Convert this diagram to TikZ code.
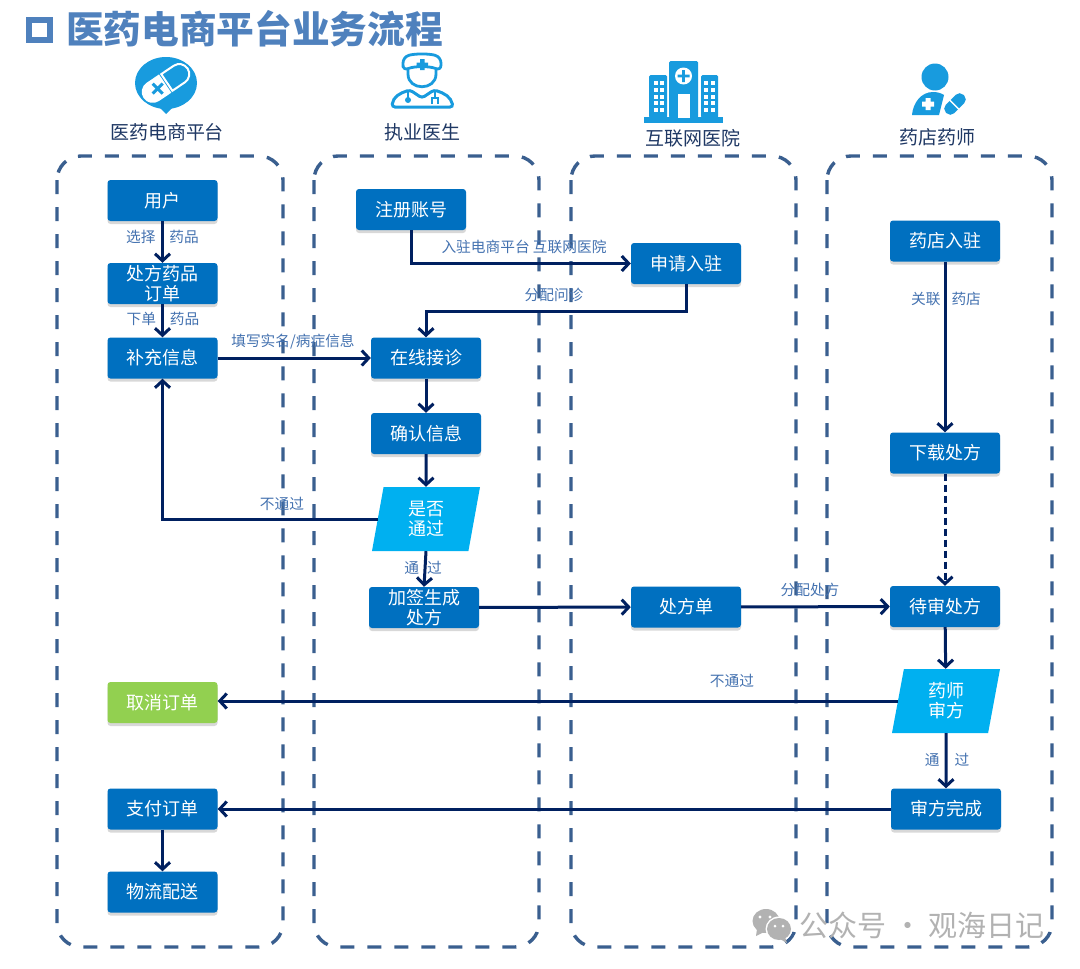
\documentclass[tikz,border=0pt]{standalone}
\usepackage{fontspec}
\setmainfont{Noto Sans CJK SC}
\usetikzlibrary{arrows.meta,shadows,shapes.geometric,calc}
\definecolor{boxblue}{RGB}{0,112,192}
\definecolor{paraBlue}{RGB}{0,176,240}
\definecolor{okgreen}{RGB}{146,208,80}
\definecolor{arrowblue}{RGB}{0,32,96}
\definecolor{lanecol}{RGB}{58,95,143}
\definecolor{labelcol}{RGB}{68,114,176}
\definecolor{titlecol}{RGB}{79,129,189}
\definecolor{headcol}{RGB}{31,56,100}
\definecolor{iconblue}{RGB}{24,155,222}
\definecolor{wmgrey}{RGB}{178,178,178}
\tikzset{
  lane/.style={draw=lanecol,line width=3.4pt,rounded corners=24pt,dash pattern=on 14pt off 13pt},
  flowbox/.style={fill=boxblue,rounded corners=3pt,minimum width=110pt,minimum height=41pt,inner sep=0pt,
    text=white,font=\fontsize{18}{20}\selectfont,align=center,drop shadow={shadow xshift=0pt,shadow yshift=-3pt,opacity=.3}},
  greenbox/.style={flowbox,fill=okgreen},
  parabox/.style={trapezium,trapezium left angle=72,trapezium right angle=108,trapezium stretches body,
    fill=paraBlue,minimum width=108pt,minimum height=64pt,inner sep=0pt,text=white,align=center,
    font=\fontsize{18}{20}\selectfont},
  link/.style={draw=arrowblue,line width=3pt,-{Straight Barb[length=7pt,width=15pt,line width=3pt]}},
  linklabel/.style={text=labelcol,font=\fontsize{14.7}{16}\selectfont,inner sep=0pt},
  laneHead/.style={text=headcol,font=\fontsize{19}{21}\selectfont,inner sep=0pt},
  icon/.style={fill=iconblue,draw=none},
}
\begin{document}
\begin{tikzpicture}[x=1pt,y=-1pt]
\useasboundingbox (0,0) rectangle (1080,969);
\fill[white] (0,0) rectangle (1080,969);
% title
\draw[titlecol,line width=6pt] (29,20) rectangle (49.5,39.5);
\node[text=titlecol,font=\fontsize{37.7}{40}\selectfont\bfseries,inner sep=0pt] (title) at (254.5,29) {医药电商平台业务流程};
% lanes
\draw[lane] (57,156) rectangle (283,947);
\draw[lane] (314,156) rectangle (539,947);
\draw[lane] (571,156) rectangle (796,947);
\draw[lane] (827,156) rectangle (1052,947);
% heads
\node[laneHead] (h1) at (167,132) {医药电商平台};
\node[laneHead] (h2) at (422,132) {执业医生};
\node[laneHead] (h3) at (693,138) {互联网医院};
\node[laneHead] (h4) at (937,137) {药店药师};
% icon: pill bubble
\fill[icon] (166,83) ellipse (31pt and 26pt);
\fill[icon] (156,104) -- (166,114) -- (176,104) -- cycle;
\begin{scope}[shift={(166,83)},rotate=34]
  \fill[white] (-1,-11) -- (-16,-11) arc[start angle=90,end angle=270,radius=11pt] -- (-1,11) -- cycle;
  \draw[white,line width=2pt] (1,-10) -- (16,-10) arc[start angle=90,end angle=-90,radius=10pt] -- (1,10) -- cycle;
  \begin{scope}[shift={(-10,0)},rotate=-34]
  \draw[iconblue,line width=3pt] (-5,-5) -- (5,5) (-5,5) -- (5,-5);
  \end{scope}
\end{scope}
% icon: doctor
\draw[iconblue,line width=2.8pt,rounded corners=6pt] (403,71) -- (403,57) .. controls (415,53.5) and (429,53.5) .. (441,57) -- (441,71) .. controls (430,66) and (414,66) .. (403,71) -- cycle;
\draw[iconblue,line width=2.8pt] (408,70) -- (408,74) .. controls (408,91) and (436,91) .. (436,74) -- (436,70);
\fill[iconblue] (420,59) rectangle (424.5,70) (416.5,62.5) rectangle (428,67);
\draw[iconblue,line width=3pt,rounded corners=3pt] (392,107) .. controls (393,97) and (400,93) .. (410,90) -- (422,98) -- (434,90) .. controls (444,93) and (451,97) .. (453,107) -- cycle;
\draw[iconblue,line width=2pt] (408,91) -- (408,98) (435,91) -- (435,97);
\fill[iconblue] (408,100) circle (3pt);
\draw[iconblue,line width=2pt] (432,104) -- (432,98) -- (438,98) -- (438,104);
% icon: hospital
\fill[icon] (644,117) rectangle (723,123);
\fill[icon,rounded corners=1.5pt] (649,75) rectangle (667,118);
\fill[icon,rounded corners=1.5pt] (701,75) rectangle (718,118);
\fill[icon,rounded corners=1.5pt] (669,61) rectangle (698,118);
\fill[white] (683.5,76) circle (8.5pt);
\fill[icon] (682.2,70) rectangle (684.8,82) (677.5,74.7) rectangle (689.5,77.3);
\fill[white] (678,94) rectangle (690,118);
\foreach \cx in {656,662,706,713}{\foreach \cy in {83,90,96.5,103,110}{\fill[white] (\cx-2,\cy-2) rectangle (\cx+2,\cy+2);}}
% icon: pharmacist
\fill[icon] (935,77) circle (13.5pt);
\fill[icon] (912,115) .. controls (913,103) and (921,92) .. (933,92) .. controls (937,92) and (941,93) .. (944,95) -- (939,115) -- cycle;
\fill[white] (925.5,98) rectangle (930.5,110) (922,101.5) rectangle (934,106.5);
\begin{scope}[shift={(955,104)},rotate=45]
  \fill[icon,rounded corners=5.5pt] (-12.5,-6) rectangle (12.5,6);
  \draw[white,line width=1.4pt] (-1,-7) -- (-1,7);
\end{scope}
% boxes
\node[flowbox] (user) at (162.5,200.5) {用户};
\node[flowbox] (order) at (162.5,283.5) {处方药品\\订单};
\node[flowbox] (info) at (162.5,358) {补充信息};
\node[greenbox] (cancel) at (162.5,702.5) {取消订单};
\node[flowbox] (pay) at (162.5,809) {支付订单};
\node[flowbox] (ship) at (162.5,892) {物流配送};
\node[flowbox] (reg) at (411,209.5) {注册账号};
\node[flowbox] (online) at (426,358) {在线接诊};
\node[flowbox] (confirm) at (426,433.5) {确认信息};
\node[parabox] (pass) at (426,519) {是否\\通过};
\node[flowbox] (sign) at (424,607.5) {加签生成\\处方};
\node[flowbox] (apply) at (686,263.5) {申请入驻};
\node[flowbox] (rx) at (686,607) {处方单};
\node[flowbox] (shop) at (945,241) {药店入驻};
\node[flowbox] (down) at (945,453) {下载处方};
\node[flowbox] (wait) at (945,606.5) {待审处方};
\node[parabox] (audit) at (946,701) {药师\\审方};
\node[flowbox] (done) at (946,809) {审方完成};
% connectors
\draw[link] (user) -- (order);
\draw[link] (order) -- (info);
\draw[link] (info) -- (online);
\draw[link] (reg.south) |- (apply.west);
\coordinate (turn) at (686,311);
\draw[link] (apply.south) -- (turn) -| (online.north);
\draw[link] (online) -- (confirm);
\draw[link] (confirm) -- (pass);
\draw[link] (pass.west) -| (info.south);
\draw[link] (pass.south) -- (sign.north);
\draw[link] (sign) -- (rx);
\draw[link] (rx) -- (wait);
\draw[link] (shop) -- (down);
\draw[link,dash pattern=on 7pt off 4pt] (down) -- (wait);
\draw[link] (wait) -- (audit);
\draw[link] (audit.west) -- (audit.west -| cancel.east);
\draw[link] (audit.south) -- (done.north);
\draw[link] (done) -- (pay);
\draw[link] (pay) -- (ship);
% labels
\node[linklabel] (l1) at (162.5,237) {选择\hspace{14pt}药品};
\node[linklabel] (l2) at (163,319) {下单\hspace{14pt}药品};
\node[linklabel] (l3) at (293,342) {填写实名/病症信息};
\node[linklabel] (l4) at (524,247) {入驻电商平台 互联网医院};
\node[linklabel] (l5) at (554,295) {分配问诊};
\node[linklabel] (l6) at (282,504) {不通过};
\node[linklabel] (l7) at (423,568) {通\hspace{8pt}过};
\node[linklabel] (l8) at (810,590) {分配处方};
\node[linklabel] (l9) at (946,299) {关联\hspace{11pt}药店};
\node[linklabel] (l10) at (732,681) {不通过};
\node[linklabel] (l11) at (947,760) {通\hspace{15pt}过};
% watermark
\fill[wmgrey] (766,921) ellipse (13.5pt and 12pt);
\fill[wmgrey] (757,929) -- (756,936) -- (764,932) -- cycle;
\fill[white] (779,929) ellipse (13.5pt and 12.5pt);
\fill[wmgrey] (779,929) ellipse (12pt and 11pt);
\fill[wmgrey] (785,937) -- (787,943) -- (780,939) -- cycle;
\fill[white] (760,917) circle (1.7pt) (770,917) circle (1.7pt) (775,926) circle (1.5pt) (783,926) circle (1.5pt);
\node[text=wmgrey,font=\fontsize{29}{30}\selectfont,inner sep=0pt] (wm) at (922,925) {公众号 · 观海日记};
\end{tikzpicture}
\end{document}
